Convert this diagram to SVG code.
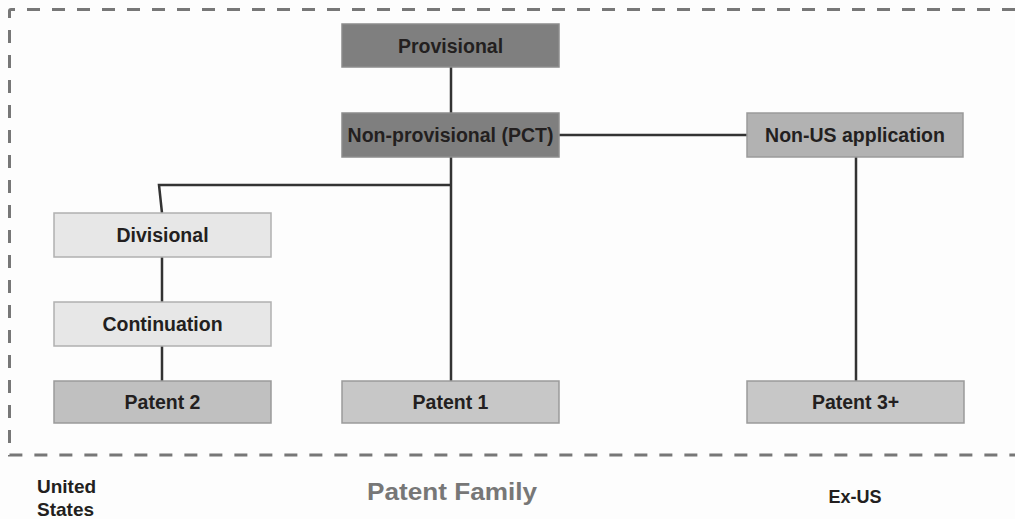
<svg xmlns="http://www.w3.org/2000/svg" width="1015" height="519" viewBox="0 0 1015 519">
<style>
.box{stroke:#9a9a9a;stroke-width:1.5}
.dark{fill:#7f7f7f;stroke:#8c8c8c}
.mid{fill:#b2b2b2}
.pat{fill:#c7c7c7}
.light{fill:#e7e7e7;stroke:#b0b0b0}
.lbl{font-family:"Liberation Sans",Arial,sans-serif;font-weight:bold;font-size:19.5px;fill:#231f20;text-anchor:middle}
.foot{font-family:"Liberation Sans",Arial,sans-serif;font-weight:bold;fill:#231f20}
.conn{fill:none;stroke:#333;stroke-width:2.5}
</style>
<rect width="1015" height="519" fill="#fdfdfd"/>
<path d="M1015 9.5 H11 Q9.5 9.5 9.5 11 V455 H1015" fill="none" stroke="#777" stroke-width="3" stroke-dasharray="13 12"/>
<g id="connectors">
<path class="conn" d="M451 67 V113"/>
<path class="conn" d="M559 135 H747"/>
<path class="conn" d="M451 157 V381"/>
<path class="conn" d="M451 185 H159 L162 213"/>
<path class="conn" d="M162 257 V302"/>
<path class="conn" d="M162 346 V381"/>
<path class="conn" d="M856 157 V381"/>
</g>
<g id="provisional"><rect class="box dark" x="342" y="24" width="217" height="43"/><text class="lbl" x="450.5" y="52.5">Provisional</text></g>
<g id="nonprovisional"><rect class="box dark" x="342" y="113" width="217" height="44"/><text class="lbl" x="450.5" y="141.5">Non-provisional (PCT)</text></g>
<g id="nonus"><rect class="box mid" x="747" y="113" width="216" height="44"/><text class="lbl" x="855" y="141.5">Non-US application</text></g>
<g id="divisional"><rect class="box light" x="54" y="213" width="217" height="44"/><text class="lbl" x="162.5" y="241.5">Divisional</text></g>
<g id="continuation"><rect class="box light" x="54" y="302" width="217" height="44"/><text class="lbl" x="162.5" y="330.5">Continuation</text></g>
<g id="patent2"><rect class="box pat" x="54" y="381" width="217" height="42" style="fill:#c0c0c0"/><text class="lbl" x="162.5" y="409">Patent 2</text></g>
<g id="patent1"><rect class="box pat" x="342" y="381" width="217" height="42"/><text class="lbl" x="450.5" y="409">Patent 1</text></g>
<g id="patent3"><rect class="box pat" x="747" y="381" width="217" height="42"/><text class="lbl" x="855.5" y="409">Patent 3+</text></g>
<g id="labels">
<text class="foot" x="37" y="493" font-size="19">United</text>
<text class="foot" x="37" y="516" font-size="19">States</text>
<text class="foot" x="452" y="500" font-size="24" text-anchor="middle" textLength="170" lengthAdjust="spacingAndGlyphs" style="fill:#777">Patent Family</text>
<text class="foot" x="855" y="503" font-size="18" text-anchor="middle">Ex-US</text>
</g>
</svg>
